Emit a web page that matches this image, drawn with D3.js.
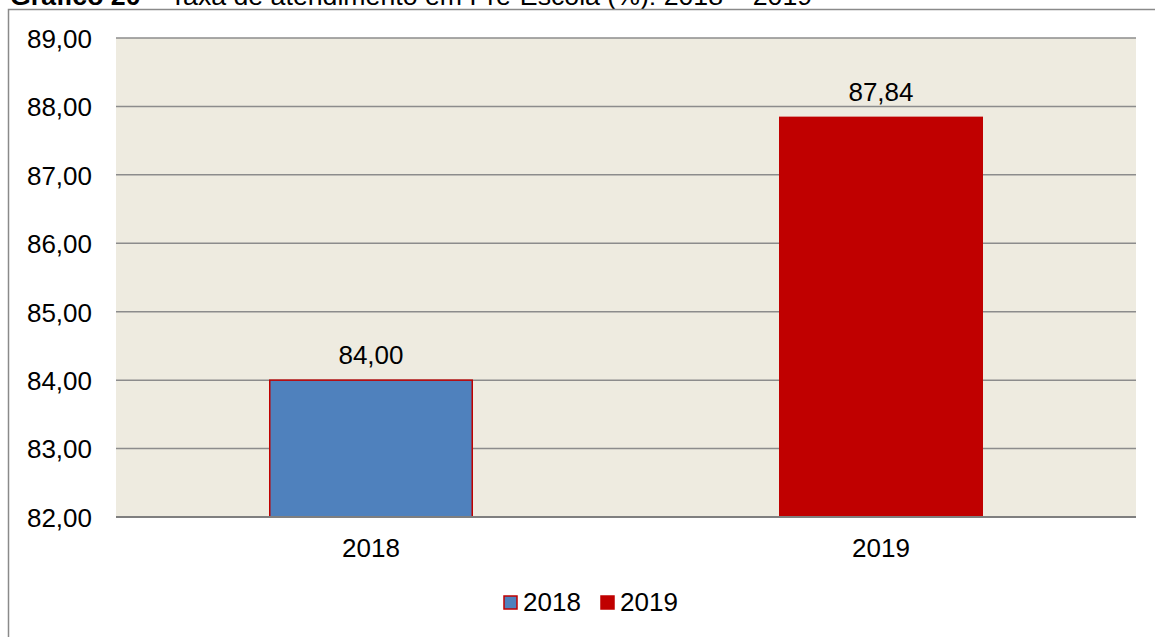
<!DOCTYPE html>
<html><head><meta charset="utf-8">
<script src="https://cdn.jsdelivr.net/npm/d3@7"></script>
<style>body{margin:0;background:#fff}svg{display:block}text{font-family:"Liberation Sans",Arial,sans-serif}</style>
</head><body>
<svg id="c" width="1155" height="637"></svg>
<script>
const categories = ["2018", "2019"];
const values = [84.00, 87.84];
const yTicks = [82, 83, 84, 85, 86, 87, 88, 89];
const colors = ["#4F81BD", "#C00000"];
const titleBold = "Gráfico 20";
const titleRest = " – Taxa de atendimento em Pré-Escola (%): 2018 – 2019";

const FS = 26;
const svg = d3.select("#c");
const m = {l:116, r:1136, t:38, b:517};
const fmt = v => v.toFixed(2).replace(".", ",");

// title (clipped at top as in the source)
const t = svg.append("text").attr("x", 10).attr("y", 4.5).attr("font-size", 26.7).attr("fill", "#000");
t.append("tspan").attr("font-weight", "bold").text(titleBold);
t.append("tspan").text(titleRest);

// frame
svg.append("path").attr("d", "M1155,9.5 H8.5 V637").attr("fill", "none").attr("stroke", "#8a8a8a").attr("stroke-width", 1.5);

const x = d3.scaleBand().domain(categories).range([m.l, m.r]).paddingInner(0.6).paddingOuter(0.3);
const y = d3.scaleLinear().domain([82, 89]).range([m.b, m.t]);

svg.append("rect").attr("x", m.l).attr("y", m.t).attr("width", m.r - m.l).attr("height", m.b - m.t).attr("fill", "#EEEBE0");

// gridlines
svg.append("g").selectAll("line").data(yTicks.filter(d => d > 82)).join("line")
  .attr("x1", m.l).attr("x2", m.r).attr("y1", d => y(d)).attr("y2", d => y(d))
  .attr("stroke", "#8c8c8c").attr("stroke-width", 1.5);

// y axis labels
const ya = d3.axisLeft(y).tickValues(yTicks).tickFormat(fmt).tickSize(0).tickPadding(24);
const yg = svg.append("g").attr("transform", `translate(${m.l},0)`).call(ya);
yg.select(".domain").remove();
yg.selectAll("text").attr("font-size", FS).attr("fill", "#000").attr("dy", "0.36em")
  .style("font-family", '"Liberation Sans",Arial,sans-serif');

// bars
svg.append("g").selectAll("rect").data(values).join("rect")
  .attr("x", (d, i) => x(categories[i]) + 0.75)
  .attr("width", x.bandwidth() - 1.5)
  .attr("y", d => y(d))
  .attr("height", d => y(82) - y(d))
  .attr("fill", (d, i) => colors[i])
  .attr("stroke", "#C00000").attr("stroke-width", 1.5);

// value labels
svg.append("g").selectAll("text").data(values).join("text")
  .attr("x", (d, i) => x(categories[i]) + x.bandwidth() / 2)
  .attr("y", d => y(d) - 16.5)
  .attr("text-anchor", "middle").attr("font-size", FS).attr("fill", "#000")
  .text(fmt);

// x axis
svg.append("line").attr("x1", m.l).attr("x2", m.r).attr("y1", m.b).attr("y2", m.b).attr("stroke", "#7f7f7f").attr("stroke-width", 2);
const xa = d3.axisBottom(x).tickSize(0).tickPadding(22);
const xg = svg.append("g").attr("transform", `translate(0,${m.b})`).call(xa);
xg.select(".domain").remove();
xg.selectAll("text").attr("font-size", FS).attr("fill", "#000")
  .style("font-family", '"Liberation Sans",Arial,sans-serif');

// legend
const lx = [504, 601];
const lg = svg.append("g").selectAll("g").data(categories).join("g").attr("transform", (d, i) => `translate(${lx[i]},596)`);
lg.append("rect").attr("width", 13).attr("height", 13).attr("fill", (d, i) => colors[i]).attr("stroke", "#C00000").attr("stroke-width", 1.5);
lg.append("text").attr("x", 19).attr("y", 15).attr("font-size", FS).attr("fill", "#000").text(d => d);
</script>
</body></html>
